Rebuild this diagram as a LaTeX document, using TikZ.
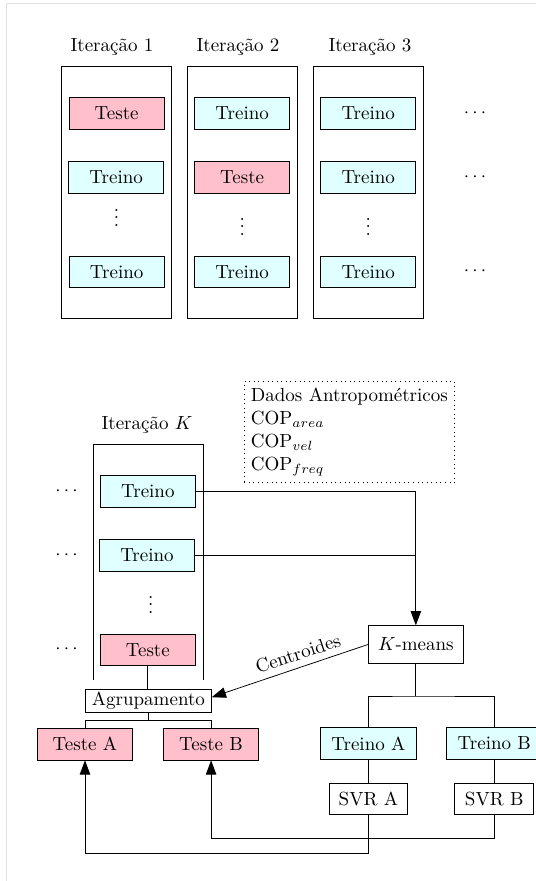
\documentclass[tikz,border=0pt]{standalone}
\usepackage{fontspec}
\usetikzlibrary{arrows.meta,calc}
\definecolor{pinkc}{RGB}{255,192,203}
\definecolor{cyanc}{RGB}{224,255,255}
\definecolor{framec}{RGB}{225,225,225}
\tikzset{
  box/.style={draw, minimum width=50pt, minimum height=16.6pt, inner sep=1pt},
  testebox/.style={box, fill=pinkc},
  treinobox/.style={box, fill=cyanc},
  plainbox/.style={draw, fill=white, inner sep=1pt},
  lbl/.style={anchor=base, inner sep=0pt},
  dotsn/.style={inner sep=0pt},
  arr/.style={-{Triangle[length=7.5pt,width=5.5pt]}},
  container/.style={draw},
}
\begin{document}
\begin{tikzpicture}[x=0.526pt, y=-0.526pt]
\useasboundingbox (0,0) rectangle (536,881);
\fill[white] (0,0) rectangle (536,881);
\draw[framec] (6,881) -- (6,3) -- (536,3);

% ---------- top part ----------
\node[lbl] (l1) at (112,51.5) {Iteração 1};
\node[lbl] (l2) at (238,51.5) {Iteração 2};
\node[lbl] (l3) at (370,51.5) {Iteração 3};

\draw[container] (61.2,66) rectangle (171.6,318);
\draw[container] (187.4,66) rectangle (297.8,318);
\draw[container] (313.5,66) rectangle (423.6,318);

\node[testebox]  (a1) at (116.7,113.5) {Teste};
\node[treinobox] (a2) at (116.2,177.5) {Treino};
\node[dotsn]     (a3) at (116.5,212) {$\vdots$};
\node[treinobox] (a4) at (116.7,271.7) {Treino};

\node[treinobox] (b1) at (242.2,113.5) {Treino};
\node[testebox]  (b2) at (242.2,177.5) {Teste};
\node[dotsn]     (b3) at (242.2,221) {$\vdots$};
\node[treinobox] (b4) at (242.2,271.7) {Treino};

\node[treinobox] (c1) at (368.2,113.5) {Treino};
\node[treinobox] (c2) at (368.2,177.5) {Treino};
\node[dotsn]     (c3) at (368.2,221) {$\vdots$};
\node[treinobox] (c4) at (368.2,271.7) {Treino};

\node[dotsn] (d1) at (475,113.5) {$\cdots$};
\node[dotsn] (d2) at (475,177.5) {$\cdots$};
\node[dotsn] (d3) at (475,271.7) {$\cdots$};

% ---------- bottom part ----------
\node[lbl] (lk) at (147,429.3) {Iteração $K$};
\draw[container] (93,680) -- (93,444.3) -- (203.4,444.3) -- (203.4,680);

\node[treinobox] (tk1) at (147.85,491.5) {Treino};
\node[treinobox] (tk2) at (147,555.5) {Treino};
\node[dotsn]     (tkd) at (150.8,599) {$\vdots$};
\node[testebox]  (tkt) at (147.85,649.7) {Teste};

\node[dotsn] (e1) at (66.5,491.5) {$\cdots$};
\node[dotsn] (e2) at (66.5,555.5) {$\cdots$};
\node[dotsn] (e3) at (66.5,649.7) {$\cdots$};

\node[draw, dotted, align=left, inner sep=3.5pt] (data) at (349.4,432)
  {Dados Antropométricos\\COP$_{area}$\\COP$_{vel}$\\COP$_{freq}$};

\node[plainbox, minimum width=50pt, minimum height=19.8pt] (km) at (415.85,644.5) {$K$-means};
\node[plainbox, minimum width=66.2pt, minimum height=12.3pt] (ag) at (148.4,700.7) {Agrupamento};

\node[testebox] (ta) at (85,744.2) {Teste A};
\node[testebox] (tb) at (211.1,744.2) {Teste B};
\node[treinobox] (tra) at (368.4,743.5) {Treino A};
\node[treinobox] (trb) at (494.3,743.5) {Treino B};
\node[plainbox, minimum width=41.5pt, minimum height=16.3pt] (sa) at (368.4,798.8) {SVR A};
\node[plainbox, minimum width=41.5pt, minimum height=16.3pt] (sb) at (494.3,798.8) {SVR B};

\coordinate (j1) at (148.4,720);
\coordinate (j2) at (415.85,696);
\coordinate (ba) at (368.4,853.3);
\coordinate (bb) at (494.3,838.3);

% connectors
\draw[arr] (tk1.east) -| (km.north);
\draw (tk2.east) -- (tk2.east -| km.north);
\draw (tkt.south) -- (tkt.south |- ag.north);
\draw[arr] (km.west) -- node[pos=0.42, above, sloped] {Centroides} ($(ag.east)+(0,-3.5)$);
\draw (ag.south) -- (j1);
\draw (ta.north) |- (j1) -| (tb.north);
\draw (km.south) -- (j2);
\draw (tra.north) |- (j2) -| (trb.north);
\draw (tra.south) -- (sa.north);
\draw (trb.south) -- (sb.north);
\draw[arr] (sa.south) -- (ba) -| (ta.south);
\draw[arr] (sb.south) -- (bb) -| (tb.south);
\end{tikzpicture}
\end{document}
